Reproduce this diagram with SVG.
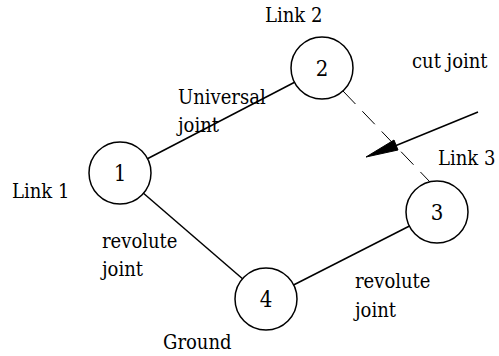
<svg xmlns="http://www.w3.org/2000/svg" width="499" height="356" viewBox="0 0 499 356">
<style>
.node{fill:#fff;stroke:#000;stroke-width:1.5}
.num{font-family:'DejaVu Serif Condensed','DejaVu Serif',serif;font-stretch:condensed;font-size:22px;text-anchor:middle;dominant-baseline:central}
.lbl{font-family:'DejaVu Serif Condensed','DejaVu Serif',serif;font-stretch:condensed;font-size:20px}
.edge{stroke:#000;stroke-width:1.5;fill:none}
.dash{stroke:#000;stroke-width:1;fill:none;stroke-dasharray:18 10}
</style>
<g id="connectors">
<line class="edge" x1="120" y1="173" x2="322" y2="68"/>
<line class="edge" x1="120" y1="173" x2="266" y2="299"/>
<line class="edge" x1="266" y1="299" x2="437" y2="212"/>
<line class="dash" x1="343" y1="91" x2="430" y2="182"/>
<path d="M478,112 L390,148" class="edge"/>
<path d="M394,140 L366,157 L398,150 z" fill="#000" stroke="#000" stroke-width="1"/>
</g>
<g id="node1"><circle class="node" cx="120" cy="173" r="31"/><text class="num" x="120" y="173">1</text></g>
<g id="node2"><circle class="node" cx="322" cy="68" r="31"/><text class="num" x="322" y="68">2</text></g>
<g id="node3"><circle class="node" cx="437" cy="212" r="31"/><text class="num" x="437" y="212">3</text></g>
<g id="node4"><circle class="node" cx="266" cy="299" r="31"/><text class="num" x="266" y="299">4</text></g>
<g id="labels">
<text class="lbl" x="265" y="22">Link 2</text>
<text class="lbl" x="178" y="104">Universal</text>
<text class="lbl" x="178" y="132">joint</text>
<text class="lbl" x="412" y="68">cut joint</text>
<text class="lbl" x="438" y="165">Link 3</text>
<text class="lbl" x="12" y="198">Link 1</text>
<text class="lbl" x="102" y="248">revolute</text>
<text class="lbl" x="102" y="276">joint</text>
<text class="lbl" x="355" y="288">revolute</text>
<text class="lbl" x="355" y="317">joint</text>
<text class="lbl" x="163" y="349">Ground</text>
</g>
</svg>
